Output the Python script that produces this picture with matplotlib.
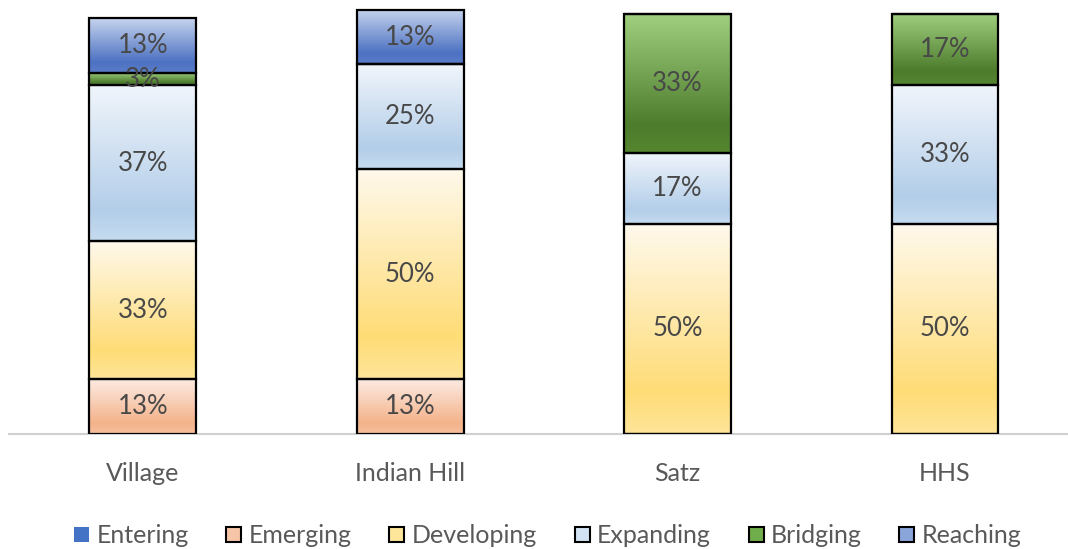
import numpy as np
import matplotlib.pyplot as plt
from matplotlib.colors import LinearSegmentedColormap
from matplotlib.patches import Rectangle

plt.rcParams['font.family'] = ['Lato', 'DejaVu Sans']

schools = ['Village', 'Indian Hill', 'Satz', 'HHS']
levels = ['Entering', 'Emerging', 'Developing', 'Expanding', 'Bridging', 'Reaching']

entering = [0, 0, 0, 0]
emerging = [13, 13, 0, 0]
developing = [33, 50, 50, 50]
expanding = [37, 25, 17, 33]
bridging = [3, 0, 33, 17]
reaching = [13, 13, 0, 0]

series = [entering, emerging, developing, expanding, bridging, reaching]

# (top, dark, bottom) colours for the vertical gradient of each level
grad = {
    'Entering': ('#4472c4', '#4472c4', '#4472c4'),
    'Emerging': ('#fcebe3', '#f4b38b', '#f6bf9c'),
    'Developing': ('#fff9ec', '#fedc76', '#ffe59a'),
    'Expanding': ('#f1f5fb', '#b3cee9', '#c6dbef'),
    'Bridging': ('#a0cf80', '#4d7d2c', '#55852f'),
    'Reaching': ('#c6d4ee', '#4d72c2', '#5a7dc8'),
}
legend_face = {
    'Entering': '#4472c4',
    'Emerging': '#f6c5a8',
    'Developing': '#fde59a',
    'Expanding': '#d4e3f3',
    'Bridging': '#6fae4a',
    'Reaching': '#8aa5da',
}

W, H = 1068, 549
fig = plt.figure(figsize=(W / 100, H / 100), dpi=100)
ax = fig.add_axes([9 / W, (H - 434) / H, 1 - 9 / W, 429 / H])

x = np.arange(len(schools))
width = 0.4
bottom = np.zeros(len(schools))
for name, vals in zip(levels, series):
    vals = np.array(vals, dtype=float)
    bars = ax.bar(x, vals, width, bottom=bottom, facecolor='none',
                  edgecolor='black' if name != 'Entering' else 'none',
                  linewidth=1.6, zorder=3)
    top_c, mid_c, bot_c = grad[name]
    cmap = LinearSegmentedColormap.from_list(
        name, [(0, top_c), (0.8, mid_c), (1.0, bot_c)])
    g = np.linspace(0, 1, 256).reshape(-1, 1)
    for b, v in zip(bars, vals):
        if v <= 0:
            continue
        x0, y0 = b.get_x(), b.get_y()
        ax.imshow(g, cmap=cmap, aspect='auto', origin='upper',
                  extent=[x0, x0 + b.get_width(), y0, y0 + b.get_height()],
                  zorder=2, interpolation='bilinear')
        ax.text(x0 + b.get_width() / 2, y0 + v / 2, f'{int(v)}%',
                ha='center', va='center', fontsize=18.5, color='#484848',
                zorder=4)
    bottom += vals

ax.set_xlim(-0.5, 3.46)
ax.set_ylim(0, 429 / 4.2)
for s in ['top', 'right', 'left']:
    ax.spines[s].set_visible(False)
ax.spines['bottom'].set_color('#d0d0d0')
ax.spines['bottom'].set_linewidth(1.5)
ax.set_yticks([])
ax.set_xticks(x)
ax.set_xticklabels(schools, fontsize=18, color='#595959')
ax.tick_params(axis='x', length=0, pad=20)

handles = []
for name in levels:
    ec = 'none' if name == 'Entering' else 'black'
    handles.append(Rectangle((0, 0), 1, 1, facecolor=legend_face[name],
                             edgecolor=ec, linewidth=1.5))
fig.legend(handles, levels, loc='lower center', ncol=6, frameon=False,
           fontsize=18, labelcolor='#595959', bbox_to_anchor=(0.513, -0.038),
           handlelength=0.6, handleheight=0.6, handletextpad=0.3,
           columnspacing=1.5)

fig.savefig('out.png', dpi=100)
